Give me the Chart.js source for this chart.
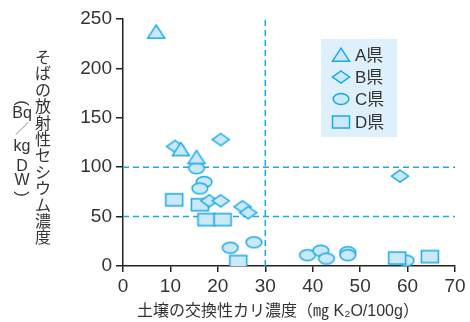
<!DOCTYPE html>
<html lang="ja">
<head>
<meta charset="utf-8">
<script src="https://cdn.jsdelivr.net/npm/chart.js@4.4.1/dist/chart.umd.min.js"></script>
<style>
  html, body { margin: 0; padding: 0; background: #ffffff; }
  #wrap { width: 470px; height: 322px; }
</style>
</head>
<body>
<div id="wrap"><canvas id="c" width="470" height="322"></canvas></div>
<script>
// Soil exchangeable potassium (x) vs. radiocaesium in buckwheat (y), by prefecture
const prefA_x = [7.0, 12.2, 15.5];
const prefA_y = [237, 118, 110];
const prefB_x = [11.0, 20.6, 18.2, 20.6, 25.2, 26.4, 58.4];
const prefB_y = [121, 128, 66, 66, 60, 54, 91];
const prefC_x = [15.5, 17.1, 16.2, 22.6, 27.6, 38.9, 41.7, 42.9, 47.4, 47.4, 59.7];
const prefC_y = [99, 85, 78.5, 18.5, 24, 11, 15.5, 7.5, 14, 11, 5.5];
const prefD_x = [10.8, 16.2, 17.6, 21.0, 24.3, 57.8, 64.7];
const prefD_y = [67, 62, 47, 47, 4.5, 8, 9.5];

const seriesLabels = ['A県', 'B県', 'C県', 'D県'];
const refLinesY = [100, 50];   // caesium reference levels
const refLinesX = [30];        // potassium reference level
const xTicks = [0, 10, 20, 30, 40, 50, 60, 70];
const yTicks = [0, 50, 100, 150, 200, 250];

const yTitleMain = 'そばの放射性セシウム濃度';
const yTitleUnit = ['(', 'Bq', '／', 'kg', 'D', 'W', ')'];
const xTitle = '土壌の交換性カリ濃度（㎎ K₂O/100g）';

const STROKE = '#1aa9e6';
const FILL = '#c9e8f8';
const TEXT = '#333333';
const FONT = '"Liberation Sans", "Noto Sans CJK JP", sans-serif';
const CJK = '"Noto Sans CJK JP", "Liberation Sans", sans-serif';

function makeMarker(shape) {
  const c = document.createElement('canvas');
  c.width = 22; c.height = 18;
  const g = c.getContext('2d');
  const cx = 11, cy = 9;
  g.fillStyle = FILL;
  g.strokeStyle = STROKE;
  g.lineWidth = 1.5;
  g.lineJoin = 'miter';
  g.beginPath();
  if (shape === 'triangle') {
    g.moveTo(cx, cy - 6.8); g.lineTo(cx + 8.5, cy + 6.2); g.lineTo(cx - 8.5, cy + 6.2); g.closePath();
  } else if (shape === 'diamond') {
    g.moveTo(cx, cy - 6); g.lineTo(cx + 8.5, cy); g.lineTo(cx, cy + 6); g.lineTo(cx - 8.5, cy); g.closePath();
  } else if (shape === 'ellipse') {
    g.ellipse(cx, cy, 7.8, 5.6, 0, 0, Math.PI * 2);
  } else {
    g.rect(cx - 8.5, cy - 6, 17, 12);
  }
  g.fill();
  g.stroke();
  return c;
}

const markers = [makeMarker('triangle'), makeMarker('diamond'), makeMarker('ellipse'), makeMarker('rect')];

function pts(xs, ys) { return xs.map((x, i) => ({ x: x, y: ys[i] })); }

const pointSets = [pts(prefA_x, prefA_y), pts(prefB_x, prefB_y), pts(prefC_x, prefC_y), pts(prefD_x, prefD_y)];
const drawOrder = [1, 2, 4, 3]; // C lowest, then D, B, A on top

const datasets = pointSets.map((data, i) => ({
  label: seriesLabels[i],
  data: data,
  pointStyle: markers[i],
  pointRadius: 9,
  pointHoverRadius: 9,
  showLine: false,
  order: drawOrder[i]
}));

const lineStyle = {
  showLine: true,
  pointRadius: 0,
  borderColor: STROKE,
  borderWidth: 1.5,
  borderDash: [6, 4],
  order: 10
};
refLinesY.forEach(v => datasets.push(Object.assign({ label: 'ref', data: [{ x: 0, y: v }, { x: 70, y: v }] }, lineStyle)));
refLinesX.forEach(v => datasets.push(Object.assign({ label: 'ref', data: [{ x: v, y: 0 }, { x: v, y: 250 }] }, lineStyle)));

// axis titles (vertical Japanese text on the left) and the inset legend
const decorations = {
  id: 'decorations',
  afterDraw(chart) {
    const ctx = chart.ctx;
    ctx.save();
    ctx.fillStyle = TEXT;
    ctx.textAlign = 'center';
    ctx.textBaseline = 'middle';

    // y title, main column
    ctx.font = '16px ' + CJK;
    Array.from(yTitleMain).forEach((ch, i) => ctx.fillText(ch, 43, 57 + i * 16.4));

    // y title, unit column (brackets turned to run vertically)
    const unitY = [103, 114, 128, 147, 167, 181, 194];
    yTitleUnit.forEach((t, i) => {
      if (t === '(' || t === ')') {
        ctx.save();
        ctx.translate(22, unitY[i]);
        ctx.rotate(Math.PI / 2);
        ctx.font = '17px ' + FONT;
        ctx.fillStyle = TEXT;
        ctx.fillText(t, 0, 0);
        ctx.restore();
        return;
      }
      ctx.font = t === '／' ? '14px ' + CJK : '16px ' + FONT;
      ctx.fillStyle = t === '／' ? '#8a8a8a' : TEXT;
      ctx.fillText(t, 22, unitY[i]);
    });

    // x title
    ctx.fillStyle = TEXT;
    ctx.font = '16px ' + FONT;
    ctx.fillText(xTitle, 278, 312);

    // legend
    ctx.fillStyle = '#def0fb';
    ctx.fillRect(321, 39, 76, 98);
    const rowY = [55, 77, 99, 122];
    ctx.textAlign = 'left';
    ctx.font = '17px ' + FONT;
    seriesLabels.forEach((lab, i) => {
      const m = markers[i];
      ctx.drawImage(m, 341 - m.width / 2, rowY[i] - m.height / 2);
      ctx.fillStyle = TEXT;
      ctx.fillText(lab, 355, rowY[i] + 1);
    });
    ctx.restore();
  }
};

new Chart(document.getElementById('c'), {
  type: 'scatter',
  data: { datasets: datasets },
  options: {
    responsive: false,
    animation: false,
    devicePixelRatio: 1,
    layout: { padding: { top: 19, right: 15, left: 0, bottom: 0 } },
    plugins: { legend: { display: false }, tooltip: { enabled: false } },
    scales: {
      x: {
        type: 'linear',
        min: 0, max: 70,
        afterBuildTicks: s => { s.ticks = xTicks.map(v => ({ value: v })); },
        afterFit: s => { s.height = 56; },
        ticks: { color: TEXT, font: { family: FONT, size: 19 }, padding: 3, maxRotation: 0 },
        grid: { drawOnChartArea: false, drawTicks: true, tickLength: 6, color: '#222', lineWidth: 1.5 },
        border: { color: '#222', width: 1.5 }
      },
      y: {
        type: 'linear',
        min: 0, max: 250,
        afterBuildTicks: s => { s.ticks = yTicks.map(v => ({ value: v })); },
        afterFit: s => { s.width = 123; },
        ticks: { color: TEXT, font: { family: FONT, size: 19 }, padding: 4 },
        grid: { drawOnChartArea: false, drawTicks: true, tickLength: 7, color: '#222', lineWidth: 1.5 },
        border: { color: '#222', width: 1.5 }
      }
    }
  },
  plugins: [decorations]
});
</script>
</body>
</html>
